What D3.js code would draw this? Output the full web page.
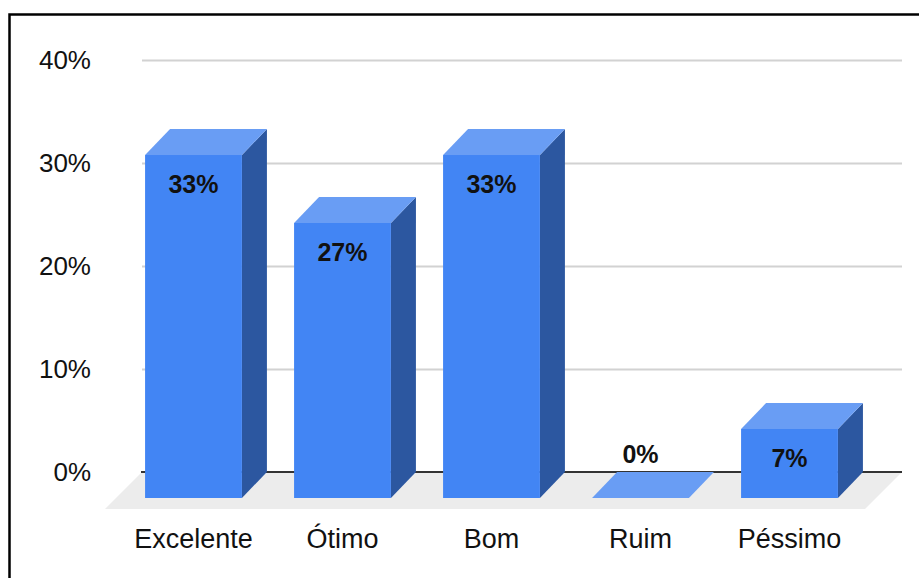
<!DOCTYPE html>
<html>
<head>
<meta charset="utf-8">
<script src="https://cdn.jsdelivr.net/npm/d3@7"></script>
<style>
  html, body { margin: 0; padding: 0; background: #fff; }
  svg { display: block; font-family: "Liberation Sans", Arial, sans-serif; }
</style>
</head>
<body>
<svg id="chart" width="919" height="578"></svg>
<script>
// Survey answers and their share of responses
const categories = ["Excelente", "Ótimo", "Bom", "Ruim", "Péssimo"];
const shares = [0.333, 0.267, 0.333, 0, 0.067];
const tickValues = [0, 0.1, 0.2, 0.3, 0.4];

const svg = d3.select("#chart");
const W = 919, H = 578;
const fmt = d3.format(".0%");

// Back wall and perspective offsets
const wallLeft = 142, wallRight = 902;
const barDX = 25, barDY = 26;     // bar depth
const floorDX = 37, floorDY = 37; // floor depth

const y = d3.scaleLinear().domain([0, 0.4]).range([472, 60]);
// Band scale for bar front faces
const x = d3.scaleBand()
  .domain(categories)
  .range([119, 864])
  .paddingInner(0.35)
  .paddingOuter(0.175);

const colFront = "#4285f4", colTop = "#699df4", colSide = "#2c57a0";

svg.append("rect").attr("width", W).attr("height", H).attr("fill", "#fff");

// Gridlines and tick labels on the back wall
const axis = d3.axisLeft(y)
  .tickValues(tickValues)
  .tickFormat(fmt)
  .tickSize(-(wallRight - wallLeft))
  .tickPadding(51);
const gAxis = svg.append("g")
  .attr("transform", `translate(${wallLeft},0)`)
  .call(axis);
gAxis.select(".domain").remove();
gAxis.selectAll(".tick line")
  .attr("stroke", d => d === 0 ? "none" : "#d2d2d2")
  .attr("stroke-width", 2);
gAxis.selectAll(".tick text")
  .attr("fill", "#111")
  .attr("font-size", 26)
  .attr("font-family", "'Liberation Sans', Arial, sans-serif");

// Floor
const y0 = y(0);
svg.append("path")
  .attr("d", `M${wallLeft},${y0} L${wallRight},${y0} L${wallRight - floorDX},${y0 + floorDY} L${wallLeft - floorDX},${y0 + floorDY} Z`)
  .attr("fill", "#ececec");

// Baseline
svg.append("line")
  .attr("x1", wallLeft - 1).attr("x2", wallRight)
  .attr("y1", y0).attr("y2", y0)
  .attr("stroke", "#333").attr("stroke-width", 2);

// Bars: front face, top face and right side
const bars = svg.append("g").selectAll("g")
  .data(categories.map((c, i) => ({ c, v: shares[i] })))
  .join("g");

bars.each(function (d) {
  const g = d3.select(this);
  const x0 = x(d.c), x1 = x0 + x.bandwidth();
  const top = y(d.v) + barDY;      // front face top
  const bottom = y0 + barDY;       // front face bottom
  if (bottom - top > 0.5) {
    g.append("path")
      .attr("d", `M${x1},${top} L${x1 + barDX},${top - barDY} L${x1 + barDX},${bottom - barDY} L${x1},${bottom} Z`)
      .attr("fill", colSide);
    g.append("rect")
      .attr("x", x0).attr("y", top)
      .attr("width", x1 - x0).attr("height", bottom - top)
      .attr("fill", colFront);
  }
  g.append("path")
    .attr("d", `M${x0},${top} L${x0 + barDX},${top - barDY} L${x1 + barDX},${top - barDY} L${x1},${top} Z`)
    .attr("fill", colTop);

  const inside = bottom - top > 50;
  g.append("text")
    .attr("x", (x0 + x1) / 2)
    .attr("y", inside ? top + 38 : top - barDY - 9)
    .attr("text-anchor", "middle")
    .attr("font-size", 25)
    .attr("font-weight", "bold")
    .attr("fill", "#111")
    .text(fmt(d.v));
});

// Category labels
svg.append("g").selectAll("text")
  .data(categories)
  .join("text")
  .attr("x", d => x(d) + x.bandwidth() / 2)
  .attr("y", 548)
  .attr("text-anchor", "middle")
  .attr("font-size", 27)
  .attr("fill", "#111")
  .text(d => d);

// Frame
svg.append("rect")
  .attr("x", 9.5).attr("y", 14.5)
  .attr("width", 1000).attr("height", 1000)
  .attr("fill", "none")
  .attr("stroke", "#000")
  .attr("stroke-width", 2.5);
</script>
</body>
</html>
